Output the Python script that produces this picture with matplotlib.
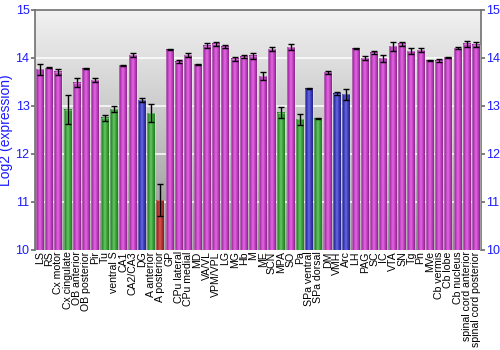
import matplotlib.pyplot as plt
import numpy as np
from matplotlib.colors import LinearSegmentedColormap

plt.rcParams['font.family'] = ['Liberation Sans', 'DejaVu Sans']

regions = ['LS', 'RS', 'Cx motor', 'Cx cingulate', 'OB anterior', 'OB posterior',
           'Pir', 'Tu', 'ventral S', 'CA1', 'CA2/CA3', 'DG', 'A anterior',
           'A posterior', 'GP', 'CPu lateral', 'CPu medial', 'MD', 'VA/VL',
           'VPM/VPL', 'LG', 'MG', 'Hb', 'M', 'ME', 'SCN', 'MPA', 'SO', 'Pa',
           'SPa ventral', 'SPa dorsal', 'DM', 'VMH', 'Arc', 'LH', 'PAG', 'SC',
           'IC', 'VTA', 'SN', 'Tg', 'Pn', 'MVe', 'Cb vermis', 'Cb lobe',
           'Cb nucleus', 'spinal cord anterior', 'spinal cord posterior']

expression = [13.76, 13.79, 13.71, 12.92, 13.48, 13.77, 13.54, 12.75, 12.93,
              13.85, 14.06, 13.12, 12.85, 11.04, 14.17, 13.92, 14.06, 13.87,
              14.25, 14.29, 14.23, 13.98, 14.02, 14.04, 13.62, 14.18, 12.86,
              14.22, 12.72, 13.36, 12.73, 13.70, 13.25, 13.24, 14.19, 13.99,
              14.11, 13.99, 14.24, 14.29, 14.14, 14.16, 13.94, 13.94, 14.01,
              14.20, 14.29, 14.27]

error = [0.11, 0.01, 0.06, 0.30, 0.09, 0.01, 0.05, 0.06, 0.06, 0.01, 0.05,
         0.05, 0.18, 0.34, 0.01, 0.035, 0.04, 0.01, 0.05, 0.04, 0.03, 0.04,
         0.03, 0.07, 0.09, 0.04, 0.11, 0.06, 0.12, 0.01, 0.01, 0.03, 0.03,
         0.12, 0.01, 0.04, 0.03, 0.07, 0.09, 0.035, 0.055, 0.04, 0.01, 0.03,
         0.01, 0.015, 0.06, 0.05]

# colour group of each region
groups = ['p', 'p', 'p', 'g', 'p', 'p', 'p', 'g', 'g', 'p', 'p', 'b', 'g', 'r',
          'p', 'p', 'p', 'p', 'p', 'p', 'p', 'p', 'p', 'p', 'p', 'p', 'g', 'p',
          'g', 'b', 'g', 'p', 'b', 'b', 'p', 'p', 'p', 'p', 'p', 'p', 'p', 'p',
          'p', 'p', 'p', 'p', 'p', 'p']

shades = {
    'p': ['#7a1f7a', '#c040c0', '#e468e4', '#c040c0', '#8a258a'],
    'g': ['#1f6e1f', '#3a9e3a', '#66c866', '#3a9e3a', '#237a23'],
    'b': ['#1f1f80', '#3a3ab8', '#6a6ae6', '#3a3ab8', '#24248c'],
    'r': ['#7a1a1a', '#b03030', '#d85858', '#b03030', '#861e1e'],
}
cmaps = {k: LinearSegmentedColormap.from_list(k, v) for k, v in shades.items()}

fig = plt.figure(figsize=(5, 3.5), dpi=100)
ax = fig.add_axes([0.07, 0.286, 0.892, 0.686])

ymin, ymax = 10, 15
n = len(regions)
x = np.arange(n)
w = 0.86

# gray gradient background
bg = LinearSegmentedColormap.from_list('bg', ['#8e8e8e', '#c4c4c4', '#f2f2f2'])
ax.imshow(np.linspace(0, 1, 256).reshape(-1, 1), cmap=bg, origin='lower',
          extent=[-0.5, n - 0.5, ymin, ymax], aspect='auto', zorder=0)
for g in [11, 12, 13, 14]:
    ax.axhline(g, color='white', lw=1.2, alpha=0.9, zorder=1)

grad = np.linspace(0, 1, 64).reshape(1, -1)
for i in range(n):
    ax.imshow(grad, cmap=cmaps[groups[i]], extent=[x[i] - w / 2, x[i] + w / 2, ymin, expression[i]],
              aspect='auto', zorder=2, interpolation='bilinear')
    ax.add_patch(plt.Rectangle((x[i] - w / 2, ymin), w, expression[i] - ymin,
                               fill=False, ec='#ffffff', lw=0.6, alpha=0.35, zorder=3))

ax.errorbar(x, expression, yerr=error, fmt='none', ecolor='black', elinewidth=1,
            capsize=2, capthick=1, zorder=4)

ax.set_xlim(-0.5, n - 0.5)
ax.set_ylim(ymin, ymax)
ax.set_xticks(x)
ax.set_xticklabels(regions, rotation=90, fontsize=7.6, linespacing=0.9)
ax.tick_params(axis='x', length=0, pad=1)
ax.set_yticks(range(10, 16))
ax.tick_params(axis='y', colors='#6a6a6a', labelcolor='#1a1aff', labelsize=9,
               direction='out', length=3, width=1.2, right=True, labelright=True, pad=1)
ax.set_ylabel('Log2 (expression)', color='#1a1aff', fontsize=10, labelpad=2)
for side in ['left', 'right', 'top']:
    ax.spines[side].set_color('#707070')
    ax.spines[side].set_linewidth(1.2)
ax.spines['bottom'].set_visible(False)

fig.savefig('out.png', dpi=100)
